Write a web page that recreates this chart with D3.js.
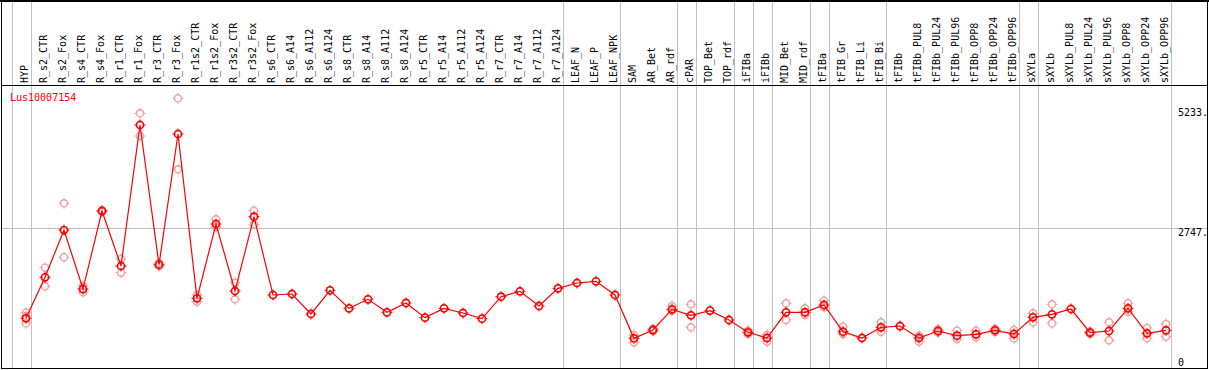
<!DOCTYPE html>
<html><head><meta charset="utf-8">
<script src="https://cdn.jsdelivr.net/npm/d3@7"></script>
<style>body{margin:0;background:#fff;overflow:hidden}</style>
</head><body><svg id="c" width="1209" height="370"></svg>
<script>
const geneName = "Lus10007154";
const categories = ["HYP","R_s2_CTR","R_s2_Fox","R_s4_CTR","R_s4_Fox","R_r1_CTR","R_r1_Fox","R_r3_CTR","R_r3_Fox","R_r1s2_CTR","R_r1s2_Fox","R_r3s2_CTR","R_r3s2_Fox","R_s6_CTR","R_s6_A14","R_s6_A112","R_s6_A124","R_s8_CTR","R_s8_A14","R_s8_A112","R_s8_A124","R_r5_CTR","R_r5_A14","R_r5_A112","R_r5_A124","R_r7_CTR","R_r7_A14","R_r7_A112","R_r7_A124","LEAF_N","LEAF_P","LEAF_NPK","SAM","AR_Bet","AR_rdf","cPAR","TOP_Bet","TOP_rdf","iFIBa","iFIBb","MID_Bet","MID_rdf","tFIBa","tFIB_Gr","tFIB_Li","tFIB_Bi","tFIBb","tFIBb_PUL8","tFIBb_PUL24","tFIBb_PUL96","tFIBb_OPP8","tFIBb_OPP24","tFIBb_OPP96","sXYLa","sXYLb","sXYLb_PUL8","sXYLb_PUL24","sXYLb_PUL96","sXYLb_OPP8","sXYLb_OPP24","sXYLb_OPP96"];
const means = [823,1695,2701,1446,3106,1936,4935,1964,4744,1248,2829,1404,2985,1319,1340,915,1418,1035,1227,950,1149,837,1035,936,816,1283,1397,1085,1461,1574,1610,1319,397,574,1014,887,986,787,525,404,950,950,1106,539,404,631,659,404,553,454,482,567,489,843,907,1021,518,553,1035,504,567];
const replicates = [[943,870,717],[1900,1504],[3269,2121],[1510,1376],[3120,3090],[2085,1794],[5183,4701],[2000,1930],[5503,3992],[1319,1177],[2928,2758],[1581,1227],[3113,2822],
[],[],[],[],[],[],[],[],[],[],[],[],[],[],[],[],[],[],[],
[468,313],[600,550],[1085,980],[1120,631],[],[],[560,490],[468,326],[1142,787],[1035,893],[1198,1060],[645,489],[],[738,539],[],
[454,326],[590,520],[560,383],[560,418],[600,530],[574,397],[929,738],[1120,717],[],[540,490],[738,355],[1142,964],[617,397],[702,432]];
const groupStarts = [0,1,29,32,35,36,38,39,40,42,43,46,53,54,61];
const yTicks = [0, 2747, 5233];
const yTickLabels = ["0", "2747.", "5233."];

const svg = d3.select("#c");
const FONT = "'DejaVu Sans Mono', monospace";
const x = d3.scalePoint().domain(categories).range([26, 1166]);
const step = x.step();
const y = d3.scaleLinear().domain([0, 5233]).range([357, 111]);
const red = "#ff0000", pink = "#f0a0a0", grid = "#c0c0c0";

// vertical group grid lines
const gx = i => i < categories.length ? x(categories[i]) : x(categories[categories.length-1]) + step;
svg.append("g").selectAll("line").data(groupStarts).join("line")
  .attr("x1", d => Math.floor(gx(d) - 14) + 0.5).attr("x2", d => Math.floor(gx(d) - 14) + 0.5)
  .attr("y1", 0).attr("y2", 369).attr("stroke", grid).attr("stroke-width", 1);

// horizontal grid at middle tick
svg.append("line").attr("x1", 1).attr("x2", 1207)
  .attr("y1", Math.round(y(2747)) + 0.5).attr("y2", Math.round(y(2747)) + 0.5)
  .attr("stroke", grid).attr("stroke-width", 1);

// frame
svg.append("rect").attr("x", 0).attr("y", 0).attr("width", 1209).attr("height", 2).attr("fill", "#000");
svg.append("line").attr("x1", 1.5).attr("x2", 1.5).attr("y1", 0).attr("y2", 369).attr("stroke", "#000");
svg.append("line").attr("x1", 1207.5).attr("x2", 1207.5).attr("y1", 0).attr("y2", 369).attr("stroke", "#000");
svg.append("line").attr("x1", 1).attr("x2", 1208).attr("y1", 85.5).attr("y2", 85.5).attr("stroke", "#000");
svg.append("line").attr("x1", 1).attr("x2", 1208).attr("y1", 368.5).attr("y2", 368.5).attr("stroke", "#000");

// category labels
svg.append("g").selectAll("text").data(categories).join("text")
  .attr("transform", d => `translate(${x(d) - 2},83) rotate(-90)`)
  .attr("dy", "0.35em").attr("text-anchor", "start")
  .attr("font-family", FONT).attr("font-size", 10).attr("fill", "#000")
  .text(d => d);

// y labels
svg.append("g").selectAll("text").data(yTicks).join("text")
  .attr("x", 1178).attr("y", (d, i) => y(d) + (i === yTicks.length - 1 ? 5 : 8.5))
  .attr("font-family", FONT).attr("font-size", 10).attr("fill", "#000")
  .text((d, i) => yTickLabels[i]);

// gene name
svg.append("text").attr("x", 10).attr("y", 101).attr("font-family", FONT)
  .attr("font-size", 10).attr("fill", red).text(geneName);

function marker(g, cx, cy, color, sw) {
  const m = g.append("g").attr("transform", `translate(${cx},${cy})`);
  m.append("circle").attr("r", 3.6).attr("fill", "none").attr("stroke", color).attr("stroke-width", sw);
  [[0,-1],[0,1],[-1,0],[1,0]].forEach(([dx, dy]) => {
    m.append("line").attr("x1", dx * 2.5).attr("y1", dy * 2.5).attr("x2", dx * 5.5).attr("y2", dy * 5.5)
      .attr("stroke", color).attr("stroke-width", 1);
  });
}

// replicates
const gr = svg.append("g");
replicates.forEach((reps, i) => reps.forEach(v => marker(gr, x(categories[i]), y(v), pink, 1.3)));

// line
svg.append("path").datum(means)
  .attr("d", d3.line().x((d, i) => x(categories[i])).y(d => y(d)))
  .attr("fill", "none").attr("stroke", red).attr("stroke-width", 1.2);

// means
const gm = svg.append("g");
means.forEach((v, i) => marker(gm, x(categories[i]), y(v), red, 1.6));
</script></body></html>
